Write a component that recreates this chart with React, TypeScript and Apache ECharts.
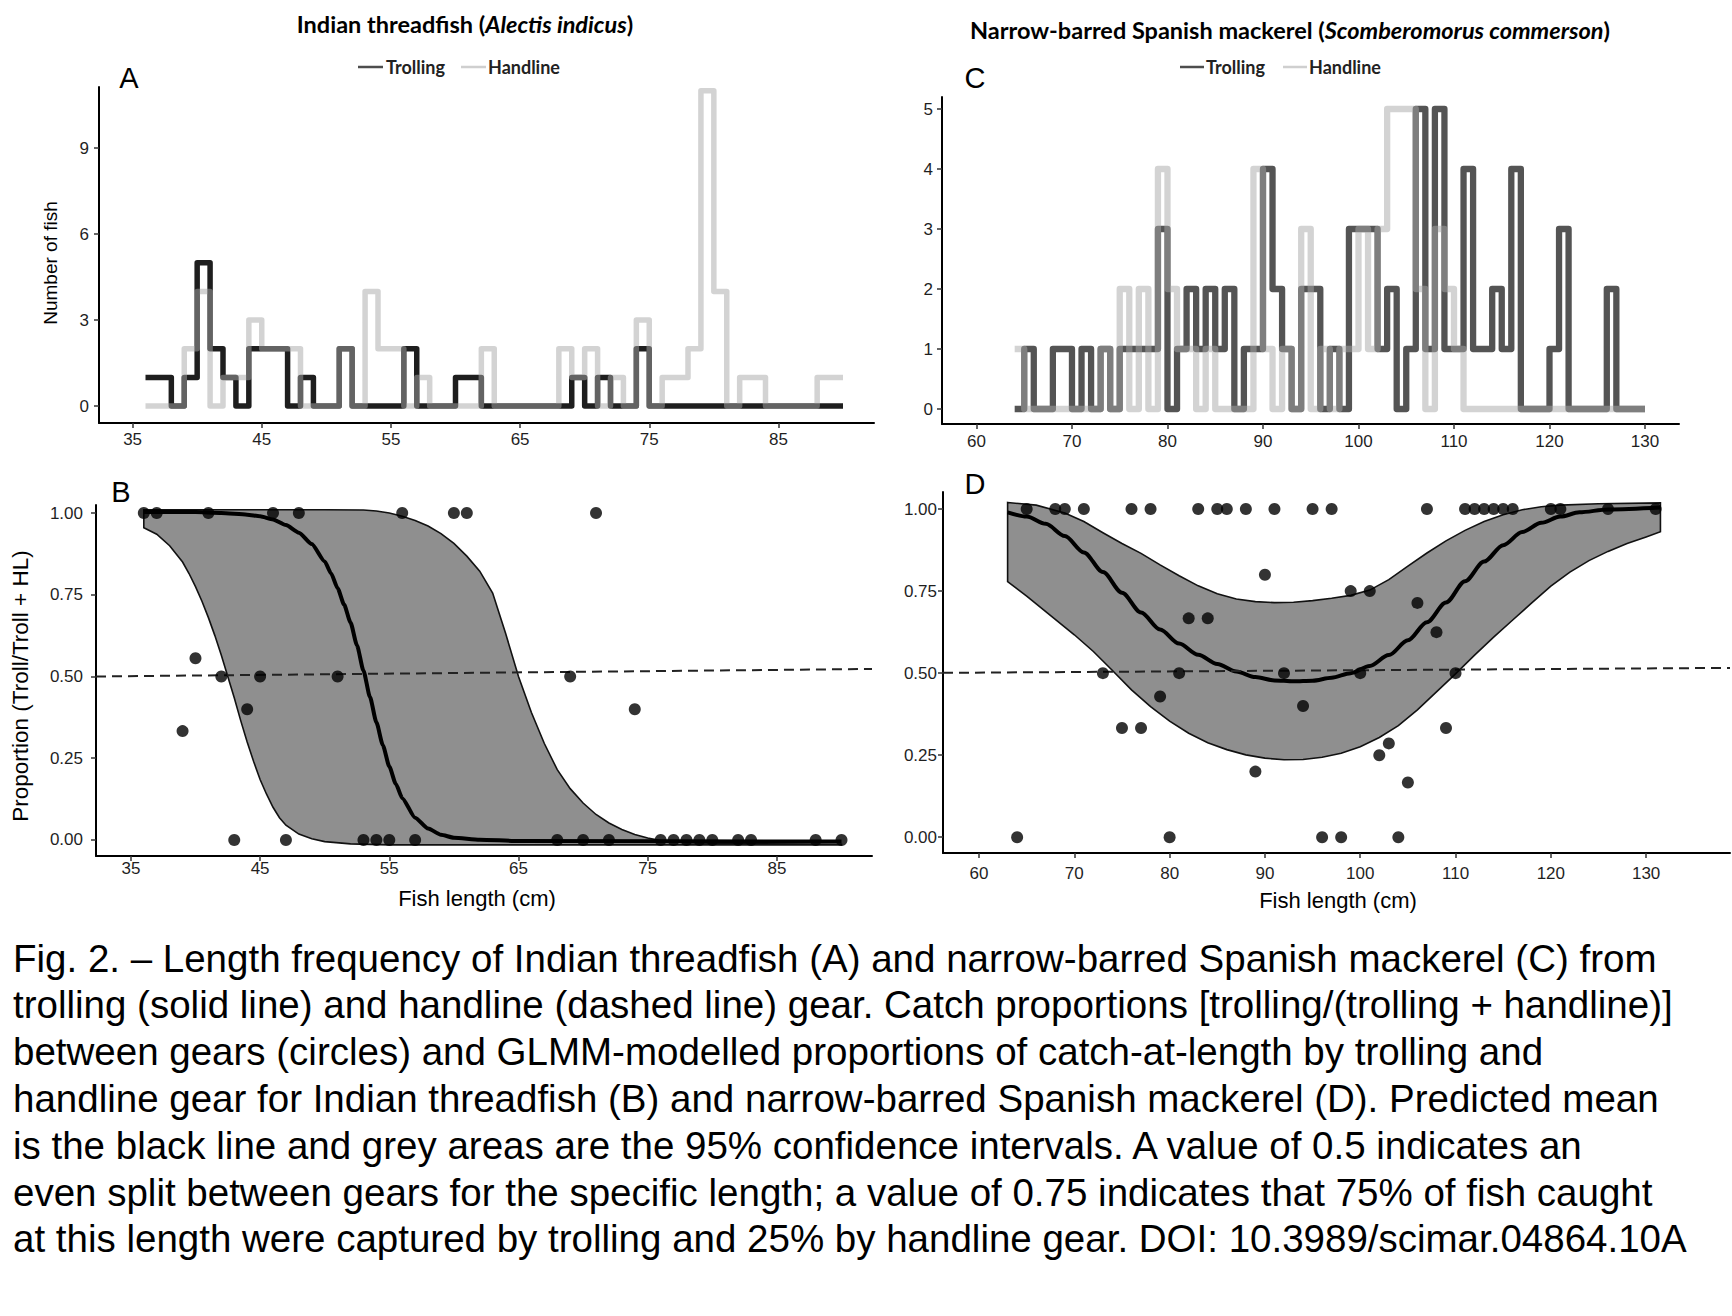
import React, { useEffect, useRef } from 'react';
import * as echarts from 'echarts';

const SANS = "'Liberation Sans', Arial, Helvetica, sans-serif";
const HUM = "Lato, 'Open Sans', sans-serif";

// ---------- Panel A: Indian threadfish length frequency (1-cm bins) ----------
const binStartA = 36;
const trollingA = [1, 1, 0, 1, 5, 2, 1, 0, 2, 2, 2, 0, 1, 0, 0, 2, 0, 0, 0, 0, 2, 0, 0, 0, 1, 1, 0, 0, 0, 0, 0, 0, 0, 1, 0, 1, 0, 0, 2, 0, 0, 0, 0, 0, 0, 0, 0, 0, 0, 0, 0, 0, 0, 0];
const handlineA = [0, 0, 0, 2, 4, 0, 1, 1, 3, 2, 2, 2, 0, 0, 0, 2, 0, 4, 2, 2, 0, 1, 0, 0, 0, 0, 2, 0, 0, 0, 0, 0, 2, 1, 2, 0, 1, 0, 3, 0, 1, 1, 2, 11, 4, 0, 1, 1, 0, 0, 0, 0, 1, 1];
const xTicksA = [35, 45, 55, 65, 75, 85];
const yTicksA = [0, 3, 6, 9];

// ---------- Panel C: Spanish mackerel length frequency ----------
const binStartC = 64;
const trollingC = [0, 1, 0, 0, 1, 1, 0, 1, 0, 1, 0, 1, 1, 1, 1, 3, 0, 1, 2, 1, 2, 1, 2, 0, 1, 1, 4, 2, 1, 0, 2, 2, 0, 1, 0, 3, 3, 3, 1, 2, 0, 1, 5, 1, 5, 1, 1, 4, 1, 1, 2, 1, 4, 0, 0, 0, 1, 3, 0, 0, 0, 0, 2, 0, 0, 0];
const handlineC = [1, 0, 0, 0, 0, 0, 0, 0, 0, 1, 0, 2, 0, 2, 0, 4, 2, 1, 1, 0, 1, 0, 0, 0, 0, 4, 1, 0, 1, 0, 3, 0, 1, 0, 1, 1, 3, 1, 3, 5, 5, 5, 2, 0, 3, 2, 1, 0, 0, 0, 0, 0, 0, 0, 0, 0, 0, 0, 0, 0, 0, 0, 0, 0, 0, 0];
const xTicksC = [60, 70, 80, 90, 100, 110, 120, 130];
const yTicksC = [0, 1, 2, 3, 4, 5];

// ---------- Panel B: proportions, Indian threadfish ----------
const pointsB = [
  [36, 1], [37, 1], [41, 1], [46, 1], [48, 1], [56, 1], [60, 1], [61, 1], [71, 1],
  [40, 0.556], [42, 0.5], [45, 0.5], [51, 0.5], [69, 0.5], [44, 0.4], [74, 0.4], [39, 0.333],
  [43, 0], [47, 0], [53, 0], [54, 0], [55, 0], [57, 0], [68, 0], [70, 0], [72, 0], [76, 0],
  [77, 0], [78, 0], [79, 0], [80, 0], [82, 0], [83, 0], [88, 0], [90, 0],
];
const meanB = [
  [36, 1.003], [40, 1.003], [42, 1.0], [44, 0.995], [45, 0.99], [46, 0.98], [47, 0.963], [48, 0.94],
  [49, 0.905], [50, 0.852], [50.5, 0.815], [51, 0.77], [51.5, 0.72], [52, 0.665], [52.5, 0.595],
  [53, 0.518], [53.5, 0.438], [54, 0.36], [54.5, 0.29], [55, 0.225], [55.5, 0.172], [56, 0.128],
  [57, 0.068], [58, 0.035], [59, 0.016], [60, 0.007], [62, 0.001], [65, -0.003], [90, -0.005],
];
const upperB = [
  [36, 1.01], [45, 1.01], [50, 1.01], [53, 1.009], [54, 1.006], [55, 1.0], [56, 0.99], [57, 0.977],
  [58, 0.96], [59, 0.937], [60, 0.907], [61, 0.868], [62, 0.822], [63, 0.755], [64, 0.632],
  [65, 0.5], [66, 0.39], [67, 0.295], [68, 0.215], [69, 0.157], [70, 0.113], [71, 0.078],
  [72, 0.052], [73, 0.032], [74, 0.017], [75, 0.006], [76, -0.002], [78, -0.008], [82, -0.011], [90, -0.013],
];
const lowerB = [
  [36, 0.955], [37, 0.935], [38, 0.9], [39, 0.85], [39.5, 0.815], [40, 0.775], [40.5, 0.73],
  [41, 0.68], [41.5, 0.625], [42, 0.565], [42.5, 0.5], [43, 0.435], [43.5, 0.365], [44, 0.3],
  [44.5, 0.24], [45, 0.185], [45.5, 0.14], [46, 0.1], [46.5, 0.068], [47, 0.045], [48, 0.018],
  [49, 0.004], [50, -0.005], [52, -0.012], [55, -0.015], [90, -0.015],
];
const refLineB = [[32.3, 0.5], [92.36, 0.523]];

// ---------- Panel D: proportions, Spanish mackerel ----------
const pointsD = [
  [65, 1], [68, 1], [69, 1], [71, 1], [76, 1], [78, 1], [83, 1], [85, 1], [86, 1], [88, 1], [91, 1],
  [95, 1], [97, 1], [107, 1], [111, 1], [112, 1], [113, 1], [114, 1], [115, 1], [116, 1], [120, 1],
  [121, 1], [126, 1], [131, 1],
  [90, 0.8], [82, 0.667], [84, 0.667], [99, 0.75], [101, 0.75], [106, 0.714], [108, 0.625],
  [73, 0.5], [81, 0.5], [92, 0.5], [100, 0.5], [110, 0.5], [79, 0.429], [94, 0.4], [75, 0.333],
  [77, 0.333], [109, 0.333], [103, 0.286], [102, 0.25], [89, 0.2], [105, 0.167],
  [64, 0], [80, 0], [96, 0], [98, 0], [104, 0],
];
const meanD = [
  [63, 0.99], [65, 0.977], [67, 0.955], [69, 0.918], [71, 0.868], [73, 0.808], [75, 0.745], [77, 0.685],
  [79, 0.633], [81, 0.59], [83, 0.556], [85, 0.528], [87, 0.505], [89, 0.488], [91, 0.478], [93, 0.475],
  [95, 0.477], [97, 0.486], [99, 0.5], [101, 0.522], [103, 0.555], [105, 0.6], [107, 0.655], [109, 0.715],
  [111, 0.78], [113, 0.84], [115, 0.89], [117, 0.93], [119, 0.958], [121, 0.977], [123, 0.99],
  [126, 0.999], [131.5, 1.005],
];
const upperD = [
  [63, 1.02], [66, 1.012], [69, 0.988], [71, 0.962], [73, 0.928], [75, 0.895], [77, 0.865], [79, 0.83],
  [81, 0.797], [83, 0.766], [85, 0.742], [87, 0.726], [89, 0.718], [91, 0.715], [93, 0.716], [95, 0.721],
  [97, 0.728], [99, 0.737], [101, 0.753], [103, 0.785], [105, 0.826], [107, 0.866], [109, 0.903],
  [111, 0.935], [113, 0.962], [115, 0.983], [117, 0.998], [119, 1.007], [121, 1.012], [125, 1.016], [131.5, 1.019],
];
const lowerD = [
  [63, 0.779], [65, 0.735], [68, 0.664], [70, 0.617], [72, 0.566], [74, 0.508], [76, 0.449], [78, 0.398],
  [80, 0.354], [82, 0.317], [84, 0.288], [86, 0.267], [88, 0.251], [90, 0.241], [92, 0.236], [94, 0.237],
  [96, 0.244], [98, 0.256], [100, 0.276], [102, 0.304], [104, 0.34], [106, 0.388], [108, 0.443],
  [110, 0.498], [112, 0.555], [114, 0.61], [116, 0.662], [118, 0.714], [120, 0.765], [122, 0.808],
  [124, 0.843], [126, 0.871], [128, 0.895], [130, 0.915], [131.5, 0.931],
];
const refLineD = [[56.22, 0.501], [138.8, 0.516]];
const yTicksP = [0, 0.25, 0.5, 0.75, 1];

const captionLines = [
  'Fig. 2. – Length frequency of Indian threadfish (A) and narrow-barred Spanish mackerel (C) from',
  'trolling (solid line) and handline (dashed line) gear. Catch proportions [trolling/(trolling + handline)]',
  'between gears (circles) and GLMM-modelled proportions of catch-at-length by trolling and',
  'handline gear for Indian threadfish (B) and narrow-barred Spanish mackerel (D). Predicted mean',
  'is the black line and grey areas are the 95% confidence intervals. A value of 0.5 indicates an',
  'even split between gears for the specific length; a value of 0.75 indicates that 75% of fish caught',
  'at this length were captured by trolling and 25% by handline gear. DOI: 10.3989/scimar.04864.10A',
];

const TROLL_A = '#1e1e1e';
const TROLL_C = '#545454';
const HAND = 'rgba(167,167,167,0.5)';
const TICK_COLOR = '#1f1f1f';

function stepData(start: number, counts: number[]) {
  const out = counts.map((c, i) => [start + i, c]);
  out.push([start + counts.length, counts[counts.length - 1]]);
  return out;
}

function xAx(gridIndex: number, min: number, max: number, ticks: number[], margin: number) {
  return {
    type: 'value', gridIndex, min, max,
    axisLine: { show: true, onZero: false, lineStyle: { color: '#000', width: 2 } },
    axisTick: { show: true, length: 5, customValues: ticks, lineStyle: { color: '#333', width: 1.5 } },
    axisLabel: { show: true, customValues: ticks, margin, color: TICK_COLOR, fontSize: 17, fontFamily: SANS },
    splitLine: { show: false },
  };
}
function yAx(gridIndex: number, min: number, max: number, ticks: number[], margin: number, fmt?: (v: number) => string) {
  return {
    type: 'value', gridIndex, min, max,
    axisLine: { show: true, onZero: false, lineStyle: { color: '#000', width: 2 } },
    axisTick: { show: true, length: 5, customValues: ticks, lineStyle: { color: '#333', width: 1.5 } },
    axisLabel: { show: true, customValues: ticks, margin, color: TICK_COLOR, fontSize: 17, fontFamily: SANS, formatter: fmt },
    splitLine: { show: false },
  };
}

function stepSeries(name: string, idx: number, start: number, counts: number[], color: string, width: number, z: number) {
  return {
    name, type: 'line', xAxisIndex: idx, yAxisIndex: idx, step: 'end',
    data: stepData(start, counts), showSymbol: false, silent: true, z,
    lineStyle: { color, width, join: 'round', cap: 'butt' },
    itemStyle: { color },
  };
}

function ribbon(idx: number, upper: number[][], lower: number[][]) {
  return {
    type: 'custom', xAxisIndex: idx, yAxisIndex: idx, silent: true, z: 1,
    data: [upper[0]],
    renderItem: (_p: any, api: any) => {
      const pts = upper.map((p) => api.coord(p)).concat(lower.slice().reverse().map((p) => api.coord(p)));
      return { type: 'polygon', shape: { points: pts }, style: { fill: '#8f8f8f', stroke: '#111', lineWidth: 1.6 } };
    },
  };
}

function meanSeries(idx: number, data: number[][], ref: number[][], smooth: number) {
  return {
    type: 'line', xAxisIndex: idx, yAxisIndex: idx, data, showSymbol: false, silent: true, z: 3,
    smooth, smoothMonotone: 'x',
    lineStyle: { color: '#000', width: 4 },
    markLine: {
      silent: true, symbol: ['none', 'none'], label: { show: false },
      lineStyle: { color: '#222', type: [10, 6], width: 2 },
      data: [[{ coord: ref[0] }, { coord: ref[1] }]],
    },
  };
}

function pointSeries(idx: number, data: number[][]) {
  return { type: 'scatter', xAxisIndex: idx, yAxisIndex: idx, data, symbolSize: 12, itemStyle: { color: '#000' }, silent: true, z: 5 };
}

function txt(text: string, x: number, y: number, size: number, opts: any = {}) {
  const { rotation, family, weight, align, color, rich } = opts;
  return {
    type: 'text', x, y, rotation: rotation || 0, silent: true,
    style: {
      text, x: 0, y: 0,
      fontSize: size, fontFamily: family || SANS, fontWeight: weight || 'normal',
      fill: color || '#000',
      align: align || 'center', verticalAlign: 'middle',
      textAlign: align || 'center', textVerticalAlign: 'middle',
      rich,
    },
  };
}

function line(x1: number, y1: number, x2: number, y2: number, stroke: string, w: number) {
  return { type: 'line', silent: true, shape: { x1, y1, x2, y2 }, style: { stroke, lineWidth: w } };
}

function titleRich(size: number) {
  return {
    b: { fontFamily: HUM, fontWeight: 'bold', fontSize: size, fill: '#000', color: '#000' },
    bi: { fontFamily: HUM, fontWeight: 'bold', fontStyle: 'italic', fontSize: size, fill: '#000', color: '#000' },
  };
}

const fmt2 = (v: number) => v.toFixed(2);

export default function App() {
  const ref = useRef<HTMLDivElement>(null);
  useEffect(() => {
    if (!ref.current) return;
    const chart = echarts.init(ref.current, null, { renderer: 'svg', width: 1732, height: 1316 });
    const legendFont = { family: HUM, weight: 'bold', align: 'left', color: '#222' };
    const option: any = {
      animation: false,
      backgroundColor: '#ffffff',
      grid: [
        { left: 99, top: 87, width: 775, height: 336 },
        { left: 96, top: 505, width: 776, height: 351 },
        { left: 942, top: 97, width: 737, height: 327 },
        { left: 943, top: 492, width: 787, height: 361 },
      ],
      xAxis: [
        xAx(0, 32.4, 92.4, xTicksA, 8),
        xAx(1, 32.3, 92.36, xTicksA, 4),
        xAx(2, 56.39, 133.56, xTicksC, 9),
        xAx(3, 56.22, 138.8, xTicksC, 12),
      ],
      yAxis: [
        yAx(0, -0.59, 11.13, yTicksA, 10),
        yAx(1, -0.049, 1.0245, yTicksP, 13, fmt2),
        yAx(2, -0.25, 5.2, yTicksC, 9),
        yAx(3, -0.048, 1.052, yTicksP, 6, fmt2),
      ],
      series: [
        stepSeries('Trolling', 0, binStartA, trollingA, TROLL_A, 5.5, 2),
        stepSeries('Handline', 0, binStartA, handlineA, HAND, 5.5, 3),
        stepSeries('Trolling', 2, binStartC, trollingC, TROLL_C, 6.3, 2),
        stepSeries('Handline', 2, binStartC, handlineC, HAND, 6.3, 3),
        ribbon(1, upperB, lowerB),
        meanSeries(1, meanB, refLineB, 0.2),
        pointSeries(1, pointsB),
        ribbon(3, upperD, lowerD),
        meanSeries(3, meanD, refLineD, 0.3),
        pointSeries(3, pointsD),
      ],
      graphic: [
        txt('{b|Indian threadfish (}{bi|Alectis indicus}{b|)}', 465, 24, 23.5, { rich: titleRich(23.5) }),
        txt('{b|Narrow-barred Spanish mackerel (}{bi|Scomberomorus commerson}{b|)}', 1290, 30, 23.5, { rich: titleRich(23.5) }),
        line(358, 67, 383, 67, '#4d4d4d', 2.5),
        txt('Trolling', 386, 67, 18, legendFont),
        line(461, 67, 486, 67, '#cfcfcf', 2.5),
        txt('Handline', 488, 67, 18, legendFont),
        line(1180, 67, 1204, 67, '#4d4d4d', 2.5),
        txt('Trolling', 1206, 67, 18, legendFont),
        line(1283, 67, 1307, 67, '#cfcfcf', 2.5),
        txt('Handline', 1309, 67, 18, legendFont),
        txt('A', 129, 78, 29),
        txt('B', 121, 492, 29),
        txt('C', 975, 78, 29),
        txt('D', 975, 484, 29),
        txt('Number of fish', 50, 263, 19, { rotation: Math.PI / 2 }),
        txt('Proportion (Troll/Troll + HL)', 20, 686, 22.5, { rotation: Math.PI / 2 }),
        txt('Fish length (cm)', 477, 898, 22),
        txt('Fish length (cm)', 1338, 900, 22),
        ...captionLines.map((l, i) => txt(l, 13, 958 + i * 46.8, 38.5, { align: 'left' })),
      ],
    };
    chart.setOption(option);
    return () => chart.dispose();
  }, []);
  return (
    <div
      ref={ref}
      style={{ position: 'absolute', left: 0, top: 0, width: 1732, height: 1316, background: '#fff' }}
    />
  );
}
